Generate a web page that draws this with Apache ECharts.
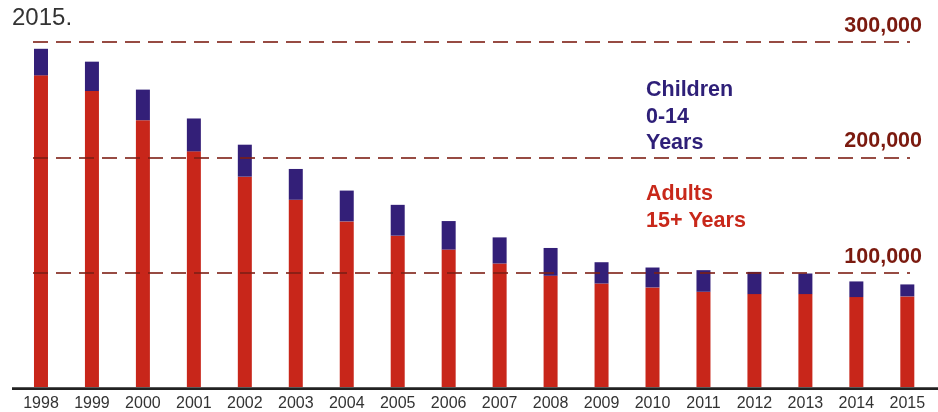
<!DOCTYPE html>
<html>
<head>
<meta charset="utf-8">
<script src="https://cdn.jsdelivr.net/npm/echarts@6/dist/echarts.min.js"></script>
<style>html,body{margin:0;padding:0;background:#fff}#c{width:938px;height:412px}</style>
</head>
<body>
<div id="c"></div>
<script>
var years = ['1998','1999','2000','2001','2002','2003','2004','2005','2006','2007','2008','2009','2010','2011','2012','2013','2014','2015'];
var adults = [271000,257400,232000,204900,182900,162800,144000,131600,119500,107400,96700,90000,86600,82800,80800,80800,78200,78800];
var children = [23100,25500,26600,28600,27800,26800,26800,26800,24800,22700,24200,18500,17300,18800,19300,17900,13600,10400];
var yTicks = [100000,200000,300000];

var chart = echarts.init(document.getElementById('c'), null, {renderer:'canvas'});
var GT = 42, GB = 23.5;
chart.setOption({
  animation:false,
  backgroundColor:'#fff',
  title:[
    {text:'2015.', left:7, top:-1, textStyle:{fontFamily:'Liberation Sans', fontWeight:'normal', fontSize:24, color:'#333', lineHeight:28}},
    {text:'Children\n0-14\nYears', left:641, top:72, textStyle:{fontFamily:'Liberation Sans', fontWeight:'bold', fontSize:21.5, color:'#2e1f78', lineHeight:26.5}},
    {text:'Adults\n15+ Years', left:641, top:176, textStyle:{fontFamily:'Liberation Sans', fontWeight:'bold', fontSize:21.5, color:'#c8281a', lineHeight:26.5}}
  ],
  grid:[
    {left:15.5, right:5.2, top:GT, bottom:GB},
    {left:33, right:28, top:GT, bottom:GB}
  ],
  xAxis:[
    {type:'category', gridIndex:0, data:years, axisLine:{show:false}, axisTick:{show:false},
     axisLabel:{fontFamily:'Liberation Sans', fontSize:16, color:'#333', margin:9}},
    {type:'value', gridIndex:1, show:false, min:0, max:1}
  ],
  yAxis:[
    {type:'value', gridIndex:0, min:0, max:300000, interval:100000, show:false, splitLine:{show:false}},
    {type:'value', gridIndex:1, min:0, max:300000, interval:100000, position:'right', z:5,
     axisLine:{show:false}, axisTick:{show:false},
     splitLine:{show:true, lineStyle:{color:'rgba(125,30,20,0.8)', width:2, type:[15,8]}},
     axisLabel:{align:'right', verticalAlign:'bottom', margin:12, padding:[0,0,5,0],
       fontFamily:'Liberation Sans', fontWeight:'bold', fontSize:21.5, color:'#7b1a0f',
       formatter:function(v){ return yTicks.indexOf(v) >= 0 ? v.toLocaleString('en-US') : ''; }}}
  ],
  graphic:[
    {type:'rect', shape:{x:12, y:387.2, width:926, height:2.8}, style:{fill:'#222'}, z:10}
  ],
  series:[
    {name:'Adults 15+ Years', type:'bar', stack:'t', xAxisIndex:0, yAxisIndex:0, barWidth:14, data:adults, itemStyle:{color:'#c8261a'}},
    {name:'Children 0-14 Years', type:'bar', stack:'t', xAxisIndex:0, yAxisIndex:0, barWidth:14, data:children, itemStyle:{color:'#331f78'}}
  ]
});
</script>
</body>
</html>
